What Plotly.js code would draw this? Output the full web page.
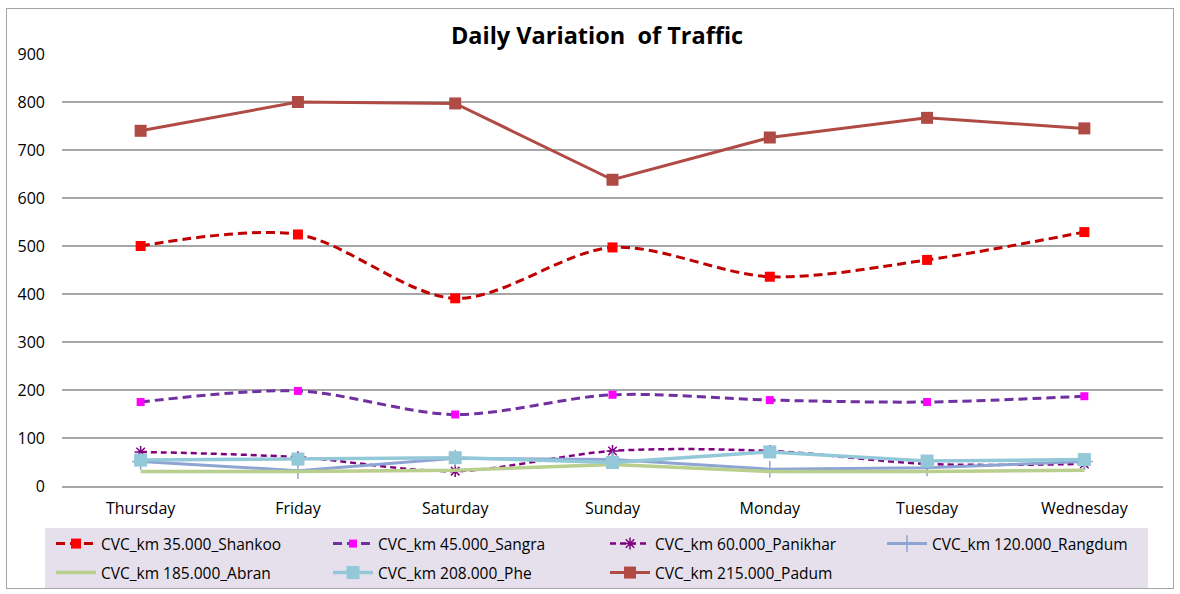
<!DOCTYPE html>
<html><head><meta charset="utf-8">
<script src="https://cdn.plot.ly/plotly-3.0.1.min.js"></script>
<style>
html,body{margin:0;padding:0;background:#fff;}
#wrap{position:relative;width:1180px;height:594px;}
#chart{width:1180px;height:594px;}
#frame{position:absolute;left:6px;top:8px;width:1168px;height:581px;border:1.5px solid #A6A6A6;pointer-events:none;box-sizing:border-box;}
</style></head>
<body><div id="wrap"><div id="chart"></div><div id="frame"></div></div>
<script>
const days = ["Thursday","Friday","Saturday","Sunday","Monday","Tuesday","Wednesday"];
const shankoo  = [500, 524, 391, 497, 436, 471, 529];
const sangra   = [175, 198, 149, 190, 179, 175, 187];
const panikhar = [71, 60, 31, 73, 73, 46, 46];
const rangdum  = [51, 32, 58, 55, 35, 38, 51];
const abran    = [30, 30, 33, 45, 30, 30, 33];
const phe      = [54, 56, 59, 49, 71, 52, 55];
const padum    = [740, 800, 797, 638, 726, 767, 745];
const yTicks   = [0,100,200,300,400,500,600,700,800,900];

const traces = [
 {name:"CVC_km 35.000_Shankoo", y:shankoo, mode:"lines+markers", legend:"legend",
  line:{color:"#C00000", width:3, dash:"9px,5px", shape:"spline", smoothing:0.9},
  marker:{symbol:"square", size:10, color:"#FF0000"}},
 {name:"CVC_km 45.000_Sangra", y:sangra, mode:"lines+markers", legend:"legend",
  line:{color:"#7030A0", width:3, dash:"9px,5px", shape:"spline", smoothing:0.9},
  marker:{symbol:"square", size:8, color:"#FF00FF"}},
 {name:"CVC_km 60.000_Panikhar", y:panikhar, mode:"lines+markers", legend:"legend",
  line:{color:"#800080", width:2.5, dash:"6px,4px", shape:"spline", smoothing:0.9},
  marker:{symbol:"asterisk-open", size:10, color:"#800080", line:{color:"#800080", width:1.5}}},
 {name:"CVC_km 120.000_Rangdum", y:rangdum, mode:"lines+markers", legend:"legend",
  line:{color:"#8EA4D2", width:3},
  marker:{symbol:"cross-thin-open", size:12, color:"#8EA4D2", line:{color:"#8EA4D2", width:1.5}}},
 {name:"CVC_km 185.000_Abran", y:abran, mode:"lines", legend:"legend2",
  line:{color:"#B9CF8E", width:3.5}},
 {name:"CVC_km 208.000_Phe", y:phe, mode:"lines+markers", legend:"legend2",
  line:{color:"#93C8D9", width:3.5},
  marker:{symbol:"square", size:13, color:"#93C8D9"}},
 {name:"CVC_km 215.000_Padum", y:padum, mode:"lines+markers", legend:"legend2",
  line:{color:"#B04A45", width:3},
  marker:{symbol:"square", size:12, color:"#B04A45"}}
].map(t => Object.assign({x:days, type:"scatter"}, t));

const L=62, R=17, T=54, B=108, W=1180, H=594;
const pw = W-L-R, ph = H-T-B;
const px = v => (v-L)/pw;
const py = v => (H-B-v)/ph;

const legBase = {orientation:"h", x:px(51), xanchor:"left", yanchor:"middle",
  bgcolor:"rgba(0,0,0,0)", font:{size:15.5, color:"#000"}, entrywidthmode:"pixels", entrywidth:222, itemwidth:40};

const layout = {
  width:W, height:H, margin:{l:L, r:R, t:T, b:B, autoexpand:false},
  paper_bgcolor:"#fff", plot_bgcolor:"#fff",
  font:{family:"Open Sans, sans-serif", color:"#000"},
  title:{text:"<b>Daily Variation  of Traffic</b>", x:597/W, xanchor:"center", y:1-36/H, yanchor:"middle",
         font:{size:23.5, color:"#000", family:"Open Sans, sans-serif"}},
  xaxis:{type:"category", range:[-0.5,6.5], showgrid:false, zeroline:false,
         showline:true, linecolor:"#A6A6A6", linewidth:1.5, ticks:"", tickfont:{size:16}, ticklabelstandoff:7},
  yaxis:{range:[0,900], tickvals:yTicks, showgrid:true, gridcolor:"#A6A6A6", gridwidth:1.3,
         zeroline:false, showline:false, ticks:"", tickfont:{size:16}, ticklabelstandoff:16},
  showlegend:true,
  legend:Object.assign({y:py(544)}, legBase),
  legend2:Object.assign({y:py(573)}, legBase),
  shapes:[{type:"rect", xref:"paper", yref:"paper", x0:px(45), x1:px(1148), y0:py(588), y1:py(528),
           fillcolor:"#E6E0EC", line:{width:0}, layer:"below"}]
};
Plotly.newPlot("chart", traces, layout, {displayModeBar:false, staticPlot:true});
</script></body></html>
